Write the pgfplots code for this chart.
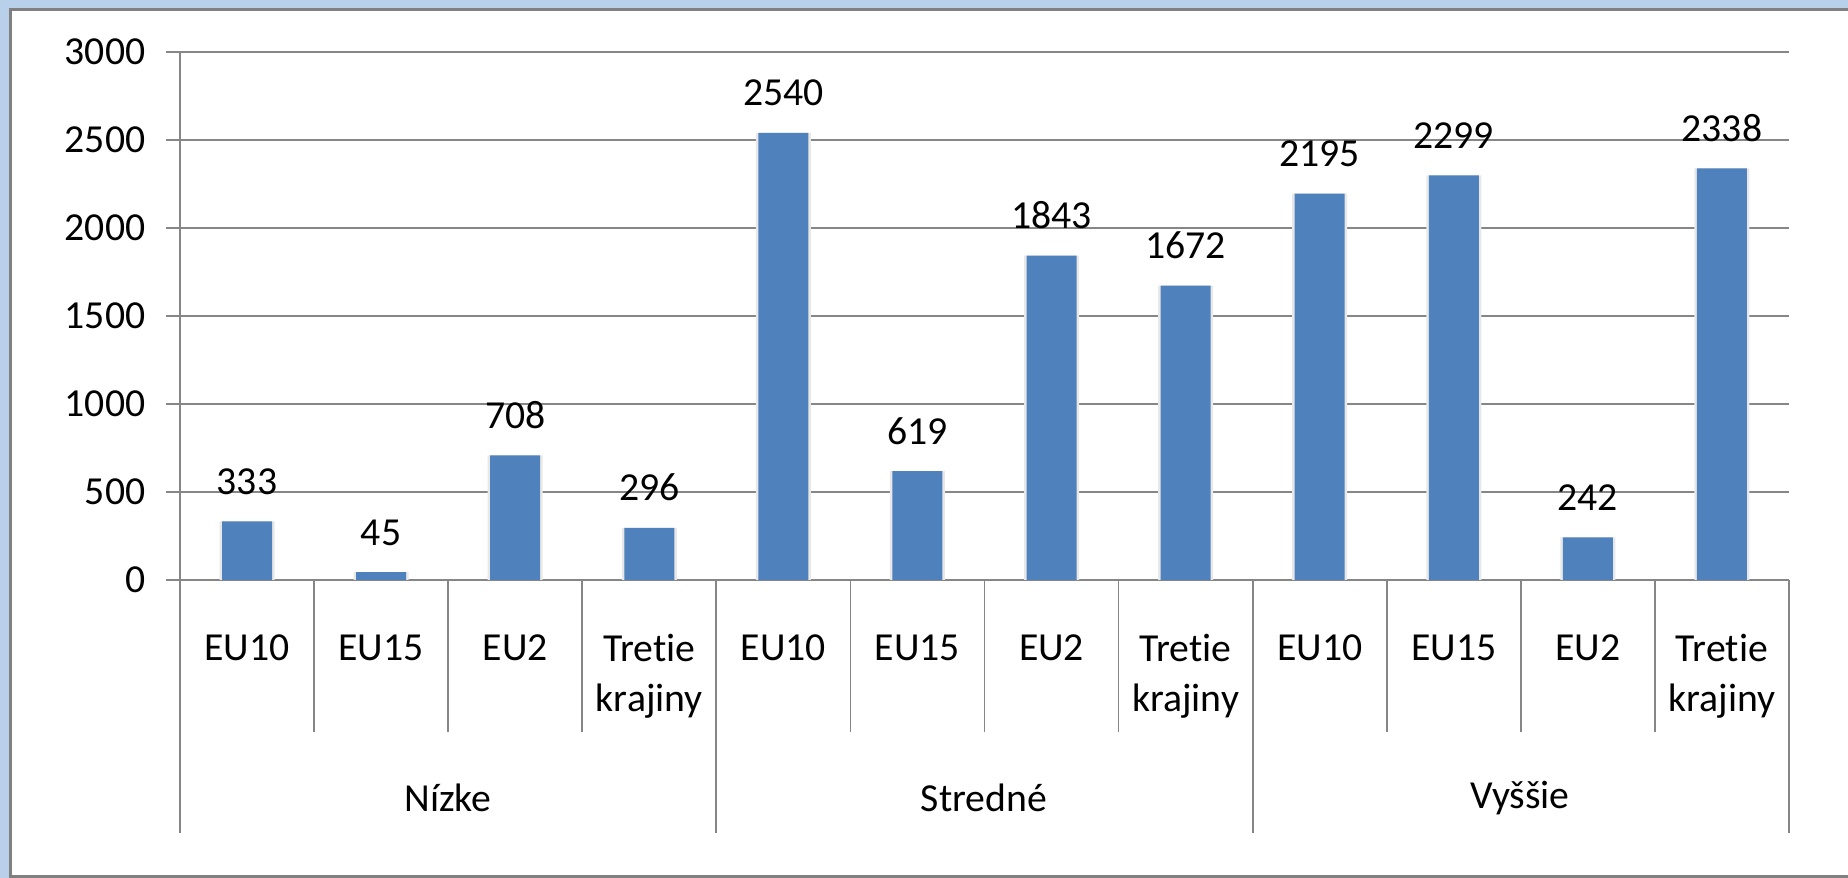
\documentclass[border=0pt]{standalone}
\usepackage{fontspec}
\setmainfont{Carlito}[Ligatures=NoCommon]
\usepackage{pgfplots}
\pgfplotsset{compat=1.18}
\definecolor{barblue}{RGB}{79,129,189}
\definecolor{gridgray}{RGB}{134,134,134}
\definecolor{bgblue}{RGB}{185,208,234}
\newcommand{\lbl}{\fontsize{11.3}{14}\selectfont}

\begin{document}
\begin{tikzpicture}[font=\lbl]
% background and frame, pixel units with y pointing down
\begin{scope}[shift={(0,87.8mm)}, x=0.1mm, y=-0.1mm]
  \path[use as bounding box] (0,0) rectangle (1848,878);
  \fill[bgblue] (0,0) rectangle (1848,878);
  \filldraw[fill=white, draw=gray, line width=0.3mm] (10,10) rectangle (1870,877);
\end{scope}

\begin{axis}[
    at={(18mm,29.8mm)}, anchor=south west,
    scale only axis, width=160.9mm, height=52.8mm,
    ymin=0, ymax=3000, ytick={0,500,...,3000},
    xmin=-0.5, xmax=11.5, xtick={0,...,11},
    xticklabels={EU10,EU15,EU2,{Tretie\\krajiny},EU10,EU15,EU2,{Tretie\\krajiny},EU10,EU15,EU2,{Tretie\\krajiny}},
    ybar, bar width=5mm,
    axis line style={draw=none},
    ymajorgrids, grid style={gridgray, line width=0.5pt},
    tick align=outside, major tick length=1.4mm,
    ytick style={gridgray, line width=0.5pt}, ytick pos=left,
    xtick style={draw=none},
    tick label style={font=\lbl, text=black},
    xticklabel style={align=center, anchor=north, inner sep=0pt, yshift=-4.0mm},
    yticklabel style={anchor=east, inner sep=0pt, xshift=-2mm},
    /pgf/number format/1000 sep={},
    /pgf/number format/assume math mode=true,
    every node near coord/.append style={font=\lbl, text=black, anchor=south, inner sep=0pt, yshift=2.6mm},
    clip=false,
]
% Schatten
\addplot[fill=black!9, draw=none, bar width=5.5mm, bar shift=0pt, forget plot] coordinates {
    (0,333) (1,45) (2,708) (3,296) (4,2540) (5,619) (6,1843) (7,1672) (8,2195) (9,2299) (10,242) (11,2338)};
% Werte
\addplot[fill=barblue, draw=none, bar shift=0pt, nodes near coords] coordinates {
    (0,333) (1,45) (2,708) (3,296) (4,2540) (5,619) (6,1843) (7,1672) (8,2195) (9,2299) (10,242) (11,2338)};
\end{axis}

% Trennlinien und Gruppen
\begin{scope}[shift={(0,87.8mm)}, x=0.1mm, y=-0.1mm, gridgray, line width=0.5pt]
  \draw (180,52) -- (180,833);
  \draw (1789,580) -- (1789,833);
  \foreach \k in {1,2,3,5,6,7,9,10,11} \draw ({180+134.083*\k},580) -- ({180+134.083*\k},732);
  \foreach \k in {4,8} \draw ({180+134.083*\k},580) -- ({180+134.083*\k},833);
  \node[text=black] at (448,798) {Nízke};
  \node[text=black] at (984,798) {Stredné};
  \node[text=black] at (1520,798) {Vyššie};
\end{scope}
\end{tikzpicture}
\end{document}
